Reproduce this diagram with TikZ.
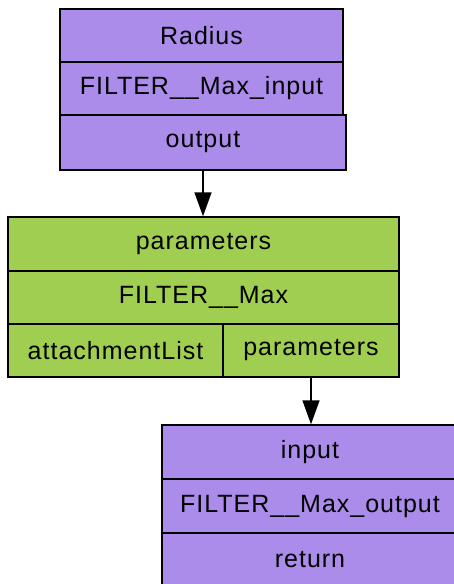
\documentclass[tikz,border=0pt]{standalone}
\usepackage{fontspec}
\setmainfont{Liberation Sans}[LetterSpace=4]
\usetikzlibrary{arrows.meta}
\definecolor{recpurple}{RGB}{171,140,234}
\definecolor{recgreen}{RGB}{160,206,80}
\begin{document}
\begin{tikzpicture}[x=1pt,y=-1pt,
  cell/.style={draw=black, line width=1.5pt, rectangle, inner sep=0pt,
    font=\fontsize{25}{29}\selectfont},
  pcell/.style={cell, fill=recpurple},
  gcell/.style={cell, fill=recgreen},
  link/.style={draw=black, line width=1.5pt,
    -{Triangle[length=24pt,width=17pt]}}]
\useasboundingbox (0,0) rectangle (454,584);
\begin{scope}
\clip (0,0) rectangle (454,584);
% input record
\node[pcell, minimum width=283, minimum height=53] (radius) at (201.5,35.5) {Radius};
\node[pcell, minimum width=283, minimum height=53] (inname) at (201.5,88.5) {FILTER\_\_Max\_input};
\node[pcell, minimum width=286, minimum height=55] (output) at (203,142.5) {output};
% filter record
\node[gcell, minimum width=391, minimum height=54] (gparams) at (203.5,244) {parameters};
\node[gcell, minimum width=391, minimum height=53] (gname) at (203.5,297.5) {FILTER\_\_Max};
\node[gcell, minimum width=215, minimum height=53] (attach) at (115.5,350.5) {attachmentList};
\node[gcell, minimum width=176, minimum height=53] (oparams) at (311,350.5) {parameters};
% output record
\node[pcell, minimum width=296, minimum height=54] (input) at (310,452) {input};
\node[pcell, minimum width=296, minimum height=54] (outname) at (310,506) {FILTER\_\_Max\_output};
\node[pcell, minimum width=296, minimum height=54] (ret) at (310,560) {return};
\end{scope}
% connectors
\draw[link] (output.south) -- (gparams.north -| output.south);
\draw[link] (oparams.south) -- (input.north -| oparams.south);
\end{tikzpicture}
\end{document}
